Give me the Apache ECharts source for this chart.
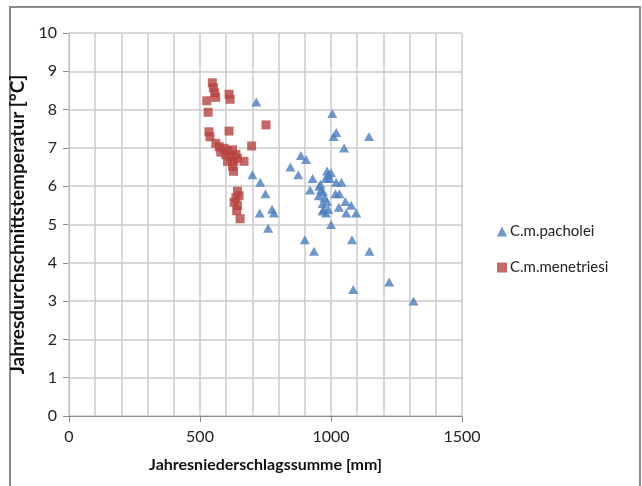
<!DOCTYPE html>
<html>
<head>
<meta charset="utf-8">
<script src="https://cdn.jsdelivr.net/npm/echarts@6/dist/echarts.min.js"></script>
<style>
  html, body { margin: 0; padding: 0; background: #fff; }
  #chart { width: 642px; height: 486px; }
</style>
</head>
<body>
<div id="chart"></div>
<script>
// Jahresniederschlagssumme [mm], Jahresdurchschnittstemperatur [°C]
const pacholei = [
  [715, 8.2], [1005, 7.9], [1020, 7.4], [1010, 7.3], [1145, 7.3], [1050, 7.0],
  [885, 6.8], [905, 6.7], [845, 6.5], [700, 6.3], [875, 6.3], [985, 6.4],
  [990, 6.3], [1000, 6.35], [995, 6.2], [980, 6.2], [930, 6.2], [730, 6.1],
  [1020, 6.1], [1040, 6.1], [955, 6.0], [960, 6.05], [920, 5.9], [962, 5.9],
  [970, 5.85], [750, 5.8], [1017, 5.8], [1032, 5.8], [953, 5.75], [975, 5.7],
  [985, 5.6], [1055, 5.6], [1077, 5.5], [968, 5.55], [1030, 5.45], [972, 5.4],
  [990, 5.4], [728, 5.3], [775, 5.4], [782, 5.3], [968, 5.35], [981, 5.3],
  [1058, 5.3], [1096, 5.3], [760, 4.9], [1000, 5.0], [900, 4.6], [1080, 4.6],
  [935, 4.3], [1147, 4.3], [1222, 3.5], [1085, 3.3], [1315, 3.0]
];
const menetriesi = [
  [547, 8.7], [551, 8.57], [556, 8.44], [560, 8.32], [611, 8.4], [615, 8.27],
  [526, 8.23], [531, 7.93], [752, 7.6], [534, 7.42], [611, 7.44], [538, 7.29],
  [697, 7.05], [560, 7.12], [573, 7.03], [592, 6.99], [605, 6.92], [624, 6.95],
  [579, 6.89], [598, 6.82], [617, 6.77], [637, 6.83], [643, 6.73], [605, 6.65],
  [630, 6.65], [668, 6.65], [624, 6.52], [628, 6.39], [643, 5.87], [649, 5.75],
  [637, 5.7], [630, 5.58], [643, 5.49], [640, 5.36], [653, 5.15]
];
const seriesNames = ['C.m.pacholei', 'C.m.menetriesi'];
const xName = 'Jahresniederschlagssumme [mm]';
const yName = 'Jahresdurchschnittstemperatur [°C]';

const chart = echarts.init(document.getElementById('chart'));
const font = 'Lato, "Open Sans", sans-serif';
const gridColor = '#cbcbcb';

chart.setOption({
  backgroundColor: '#fff',
  animation: false,
  textStyle: { fontFamily: font },
  graphic: [{
    type: 'rect',
    shape: { x: 10, y: 7, width: 630, height: 490 },
    style: { fill: 'none', stroke: '#8c8c8c', lineWidth: 2 },
    silent: true
  }],
  grid: { left: 69, right: 180, top: 33, bottom: 70 },
  legend: {
    orient: 'vertical',
    left: 492,
    top: 219,
    itemGap: 21,
    itemWidth: 10,
    itemHeight: 10,
    textStyle: { fontSize: 15, color: '#222', fontFamily: font, padding: [0, 0, 0, -2] },
    data: [
      { name: seriesNames[0], icon: 'triangle' },
      { name: seriesNames[1], icon: 'rect' }
    ]
  },
  xAxis: [
    {
      type: 'value',
      min: 0,
      max: 1500,
      interval: 500,
      name: xName,
      nameLocation: 'middle',
      nameGap: 41,
      nameTextStyle: { fontSize: 16, fontWeight: 'bold', color: '#111', fontFamily: font },
      axisLine: { show: true, lineStyle: { color: '#8c8c8c', width: 1 } },
      axisTick: { show: true, length: 6, lineStyle: { color: '#8c8c8c' } },
      axisLabel: { fontSize: 16, color: '#222', margin: 13, formatter: v => String(v) },
      splitLine: { show: false },
      z: 3
    },
    {
      // gridlines every 100 mm
      type: 'value',
      position: 'top',
      min: 0,
      max: 1500,
      interval: 100,
      axisLine: { show: false },
      axisTick: { show: false },
      axisLabel: { show: false },
      splitLine: { show: true, lineStyle: { color: gridColor, width: 1.5 } },
      z: 1
    }
  ],
  yAxis: {
    type: 'value',
    min: 0,
    max: 10,
    interval: 1,
    name: yName,
    nameLocation: 'middle',
    nameGap: 36,
    nameTextStyle: { fontSize: 19, fontWeight: 'bold', color: '#111', fontFamily: font },
    axisLine: { show: true, lineStyle: { color: '#8c8c8c', width: 1 } },
    axisTick: { show: true, length: 6, lineStyle: { color: '#8c8c8c' } },
    axisLabel: { fontSize: 16, color: '#222', margin: 12 },
    splitLine: { show: true, lineStyle: { color: gridColor, width: 1.5 } }
  },
  series: [
    {
      name: seriesNames[0],
      type: 'scatter',
      symbol: 'triangle',
      symbolSize: [10, 9],
      itemStyle: { color: '#4a7ebf' },
      data: pacholei
    },
    {
      name: seriesNames[1],
      type: 'scatter',
      symbol: 'rect',
      symbolSize: 9,
      itemStyle: { color: '#b8423f' },
      data: menetriesi
    }
  ]
});
</script>
</body>
</html>
